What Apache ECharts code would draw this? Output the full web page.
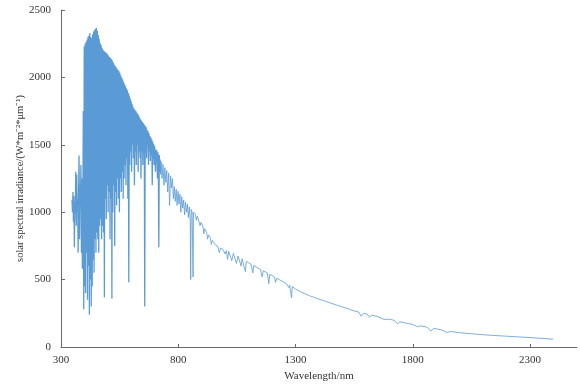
<!DOCTYPE html>
<html>
<head>
<meta charset="utf-8">
<script src="https://cdn.jsdelivr.net/npm/echarts@6/dist/echarts.min.js"></script>
<style>
html,body{margin:0;padding:0;background:#fff;}
#chart{width:580px;height:389px;}
</style>
</head>
<body>
<div id="chart"></div>
<script>
// Wavelength (nm) and solar spectral irradiance (W*m^-2*um^-1)
const wavelengths = [
  347,349,351,353,355,357,359,361,363,365,367,369,371,373,375,377,379,381,383,385,387,389,391,393,
  395,397,399,401,403,405,407,409,411,413,415,417,419,421,423,425,427,429,431,433,435,437,439,441,443,445,447,449,
  451,453,455,457,459,461,463,465,467,469,471,473,475,477,479,481,483,485,487,489,491,493,495,497,499,
  501,503,505,507,509,511,513,515,517,519,521,523,525,527,529,531,533,535,537,539,541,543,545,547,549,
  551,553,555,557,559,561,563,565,567,569,571,573,575,577,579,581,583,585,587,589,591,593,595,597,599,
  601,603,605,607,609,611,613,615,617,619,621,623,625,627,629,631,633,635,637,639,641,643,645,647,649,
  651,653,655,657,659,661,663,665,667,669,671,673,675,677,679,681,683,685,687,689,691,693,695,697,699,
  701,703,705,707,709,711,713,715,717,719,721,723,725,727,731,735,739,743,747,751,755,759,763,767,771,775,779,
  783,787,791,795,799,803,807,811,815,819,823,827,831,835,839,843,847,851,853,855,859,863,865,869,873,877,
  881,885,889,893,897,901,905,909,913,917,921,925,929,933,937,941,945,951,957,963,969,975,981,987,993,999,
  1005,1010,1015,1022,1028,1035,1042,1048,1055,1062,1068,1072,1080,1086,1090,1100,1110,1118,1122,1130,1140,
  1150,1158,1162,1170,1180,1186,1190,1200,1210,1215,1220,1230,1245,1260,1272,1275,1280,1283,1286,1300,1321,
  1340,1360,1380,1400,1420,1440,1460,1480,1500,1520,1535,1550,1570,1580,1590,1605,1615,1625,1650,1676,1680,
  1700,1720,1736,1745,1770,1800,1821,1830,1860,1877,1890,1920,1945,1960,2000,2050,2100,2150,2200,2250,2300,
  2350,2398
];
const irradiance = [
  1090,1000,1150,930,1120,740,1080,1000,1300,900,1280,1050,1100,700,1150,1420,800,1200,1050,1350,700,1250,580,900,
  1750,280,2230,450,2250,400,2265,700,2280,350,2300,600,2310,240,2330,500,2300,300,2290,450,2320,650,2340,550,2350,800,2360,700,
  2366,850,2345,800,2315,700,2285,900,2255,950,2240,800,2220,900,2205,850,2195,370,2190,1100,2185,950,2180,1200,2170,
  1000,2160,1150,2150,800,2145,1100,2135,360,2125,1000,2110,1200,2095,750,2085,1150,2075,1050,2065,1250,2055,1100,2045,1000,
  2035,1250,2015,1150,2000,1300,1985,1100,1965,1250,1950,1350,1935,1200,1920,1400,1905,1100,1885,480,1865,1350,1845,1450,1825,
  1300,1805,1500,1785,1400,1770,1200,1760,1450,1750,1350,1740,1500,1730,1300,1720,1450,1705,1400,1690,1250,1680,1450,1670,1350,
  1660,1500,1650,300,1640,1450,1630,1400,1612,1500,1600,1350,1585,1450,1565,1380,1555,1420,1540,1200,1525,1400,1505,1350,1490,
  1480,1300,1465,1380,1455,1250,1445,1350,740,1425,1300,1390,1280,1375,1250,1355,1200,1330,1220,1310,1150,1290,1050,1270,1180,1250,1100,
  1190,1080,1170,1050,1155,1060,1135,1000,1115,1030,1090,980,1075,1000,1060,960,1040,930,500,1020,1000,520,1000,990,985,940,
  970,950,945,900,925,915,895,840,878,865,850,800,832,820,808,760,790,780,760,755,745,700,735,725,718,690,
  715,650,710,700,640,695,685,620,675,665,600,655,645,560,635,625,615,550,605,595,585,
  576,520,567,558,549,470,540,530,520,480,510,500,486,472,440,458,452,365,448,430,410,
  395,380,368,355,343,332,320,308,297,286,276,268,258,228,250,244,222,236,226,205,215,
  206,198,172,187,178,167,150,157,148,118,138,128,108,115,106,98,91,85,80,75,70,
  64,58
];
const xTicks = [300, 800, 1300, 1800, 2300];
const yTicks = [0, 500, 1000, 1500, 2000, 2500];
const denseLimit = 721; // densely sampled visible band drawn with a slightly heavier stroke

const allData = wavelengths.map((w, i) => [w, irradiance[i]]);
const visibleData = allData.filter(d => d[0] <= denseLimit);
const infraredData = allData.filter(d => d[0] >= denseLimit);

const font = '"Liberation Serif", "Times New Roman", serif';
const plain = v => String(v);
const chart = echarts.init(document.getElementById('chart'), null, {renderer: 'canvas'});
const lineSeries = (data, width) => ({
  type: 'line', data, showSymbol: false, symbol: 'none', sampling: null,
  lineStyle: {color: '#5b9bd5', width}, emphasis: {disabled: true}
});
chart.setOption({
  animation: false,
  backgroundColor: '#ffffff',
  grid: {left: 61, right: 3, top: 10, bottom: 42, containLabel: false},
  xAxis: {
    type: 'value', min: 300, max: 2500, interval: 500,
    name: 'Wavelength/nm', nameLocation: 'middle', nameGap: 24, nameMoveOverlap: false,
    nameTextStyle: {fontFamily: font, fontSize: 11, color: '#333'},
    axisLine: {show: true, lineStyle: {color: '#6b6b6b', width: 1}},
    axisTick: {show: true, inside: true, length: 3, lineStyle: {color: '#6b6b6b'}, customValues: xTicks},
    axisLabel: {fontFamily: font, fontSize: 11, color: '#333', margin: 8, customValues: xTicks, formatter: plain},
    splitLine: {show: false}
  },
  yAxis: {
    type: 'value', min: 0, max: 2500, interval: 500,
    name: 'solar spectral irradiance/(W*m\u207B\u00B2*\u03BCm\u207B\u00B9)', nameLocation: 'middle', nameGap: 35, nameMoveOverlap: false,
    nameTextStyle: {fontFamily: font, fontSize: 10.5, color: '#333'},
    axisLine: {show: true, lineStyle: {color: '#6b6b6b', width: 1}},
    axisTick: {show: true, inside: true, length: 4, lineStyle: {color: '#6b6b6b'}, customValues: yTicks},
    axisLabel: {fontFamily: font, fontSize: 11, color: '#333', margin: 10, customValues: yTicks, formatter: plain},
    splitLine: {show: false}
  },
  series: [lineSeries(visibleData, 1.3), lineSeries(infraredData, 0.8)]
});
</script>
</body>
</html>
